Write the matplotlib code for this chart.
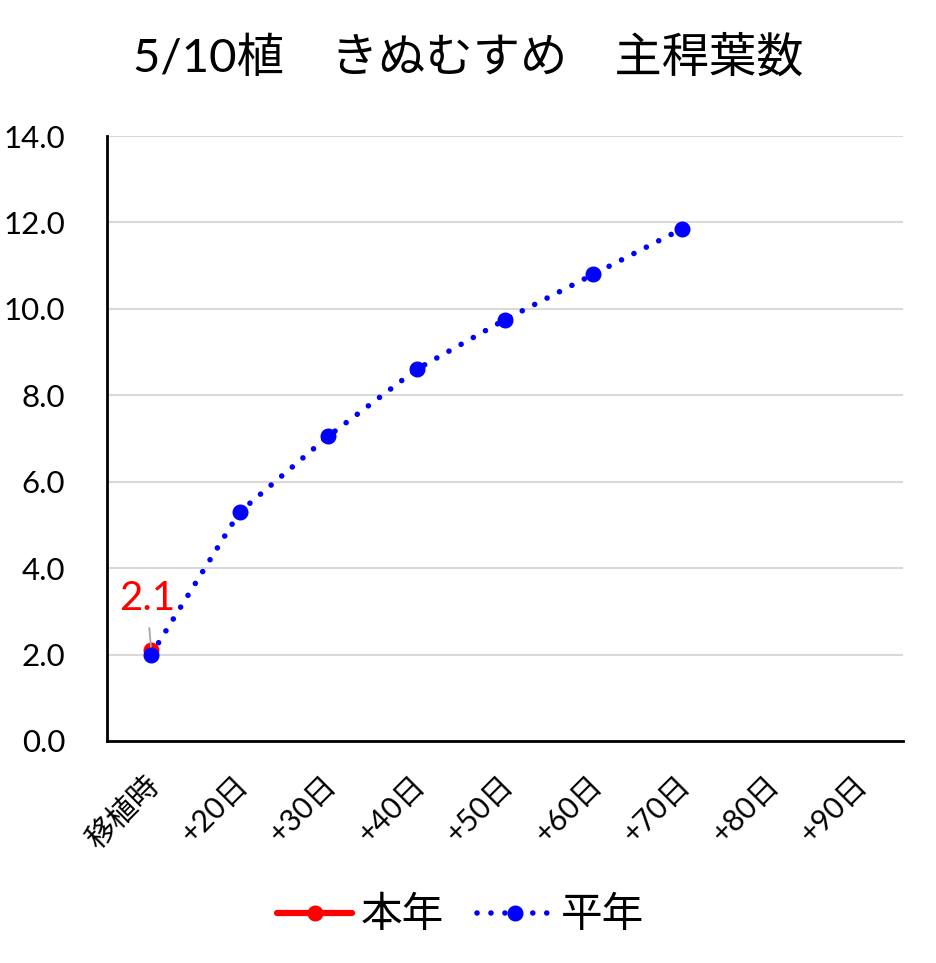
import matplotlib
matplotlib.use("Agg")
import matplotlib.pyplot as plt
import matplotlib.transforms as mtransforms

plt.rcParams['font.family'] = ['Lato', 'Noto Sans CJK JP', 'DejaVu Sans']

categories = ['移植時', '+20日', '+30日', '+40日', '+50日', '+60日', '+70日', '+80日', '+90日']
honnen = [2.1]
heinen = [2.0, 5.3, 7.05, 8.6, 9.75, 10.8, 11.85]
title = '5/10植\u3000きぬむすめ\u3000主稈葉数'

fig = plt.figure(figsize=(9.36, 9.63), dpi=100)
ax = fig.add_axes([107/936, 1-741/963, (903-107)/936, (741-136)/963])

x_all = list(range(len(categories)))
ax.plot(x_all[:len(honnen)], honnen, color='#ff0000', lw=4.5, marker='o', ms=10.5,
        solid_capstyle='round', label='本年', zorder=3)
ax.plot(x_all[:len(heinen)], heinen, color='#0000ff', lw=4, linestyle=(0, (0.01, 2.5)),
        dash_capstyle='round', marker='o', ms=10.5, label='平年', zorder=4)

ax.annotate(f'{honnen[0]:.1f}', xy=(0, honnen[0]), xytext=(-0.05, 3.3),
            color='#ff0000', fontsize=29, ha='center', va='center',
            arrowprops=dict(arrowstyle='-', color='#a6a6a6', lw=1.3, shrinkA=6, shrinkB=1))

ax.set_xlim(-0.5, len(categories) - 0.5)
ax.set_ylim(0, 14)
ax.set_yticks([0, 2, 4, 6, 8, 10, 12, 14])
ax.set_yticklabels([f'{v:.1f}' for v in [0, 2, 4, 6, 8, 10, 12, 14]], fontsize=22.5)
ax.set_xticks(x_all)
ax.set_xticklabels(categories, rotation=45, ha='right', rotation_mode='anchor', fontsize=21.5)
ax.tick_params(axis='y', length=0, pad=30)
ax.tick_params(axis='x', length=0, pad=20)
offset = mtransforms.ScaledTranslation(-6/100, -2/100, fig.dpi_scale_trans)
for lab in ax.get_xticklabels():
    lab.set_transform(lab.get_transform() + offset)

ax.grid(axis='y', color='#d9d9d9', lw=1.5)
ax.set_axisbelow(True)
for s in ['top', 'right']:
    ax.spines[s].set_visible(False)
ax.spines['left'].set_linewidth(2)
ax.spines['bottom'].set_linewidth(2)

fig.text(0.5, 1-57/963, title, ha='center', va='center', fontsize=34)

fig.legend(loc='center', bbox_to_anchor=(0.492, 1-915/963), ncol=2, frameon=False,
           fontsize=30, handlelength=1.8, columnspacing=0.8, handletextpad=0.2)

fig.savefig('out.png', dpi=100)
